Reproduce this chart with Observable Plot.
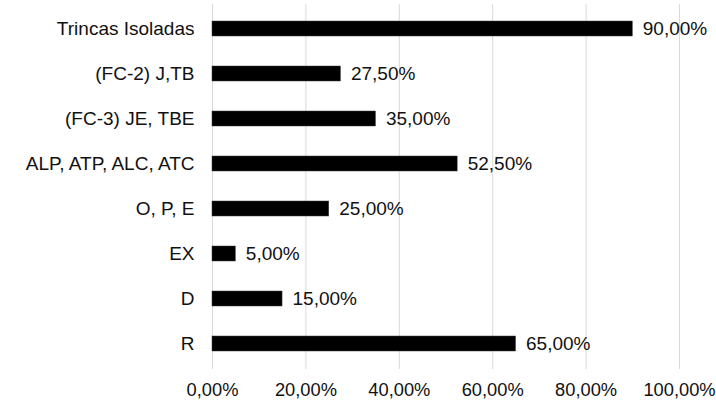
<!DOCTYPE html>
<html>
<head>
<meta charset="utf-8">
<script src="https://cdn.jsdelivr.net/npm/d3@7"></script>
<script src="https://cdn.jsdelivr.net/npm/@observablehq/plot@0.6"></script>
<style>
  html, body { margin: 0; padding: 0; background: #fff; }
  #chart svg { display: block; }
</style>
</head>
<body>
<div id="chart"></div>
<script>
const categories = ["Trincas Isoladas", "(FC-2) J,TB", "(FC-3) JE, TBE", "ALP, ATP, ALC, ATC", "O, P, E", "EX", "D", "R"];
const values = [90, 27.5, 35, 52.5, 25, 5, 15, 65];
const xTicks = [0, 20, 40, 60, 80, 100];

const data = categories.map((c, i) => ({category: c, value: values[i]}));
const fmt = v => v.toFixed(2).replace(".", ",") + "%";

const chart = Plot.plot({
  width: 716,
  height: 401,
  marginLeft: 212,
  marginRight: 37,
  marginTop: 4,
  marginBottom: 32,
  style: {fontFamily: "'Liberation Sans', Arial, sans-serif", fontSize: "19px", color: "#111", background: "#fff"},
  x: {domain: [0, 100], ticks: xTicks, tickFormat: fmt, tickSize: 0, tickPadding: 13.5, label: null},
  y: {domain: categories, paddingInner: 0.66, paddingOuter: 0.33, tickSize: 0, tickPadding: 18, label: null},
  marks: [
    Plot.gridX(xTicks, {stroke: "#d9d9d9", strokeOpacity: 1, strokeWidth: 1}),
    Plot.barX(data, {x: "value", y: "category", fill: "#000", stroke: "#404040", strokeWidth: 0.5}),
    Plot.text(data, {x: "value", y: "category", text: d => fmt(d.value), textAnchor: "start", dx: 10, fill: "#111", fontSize: 19}),
    Plot.axisX({ticks: xTicks, tickFormat: fmt, tickSize: 0, tickPadding: 13.5, fontSize: 18.3, label: null})
  ]
});
document.getElementById("chart").appendChild(chart);
</script>
</body>
</html>
